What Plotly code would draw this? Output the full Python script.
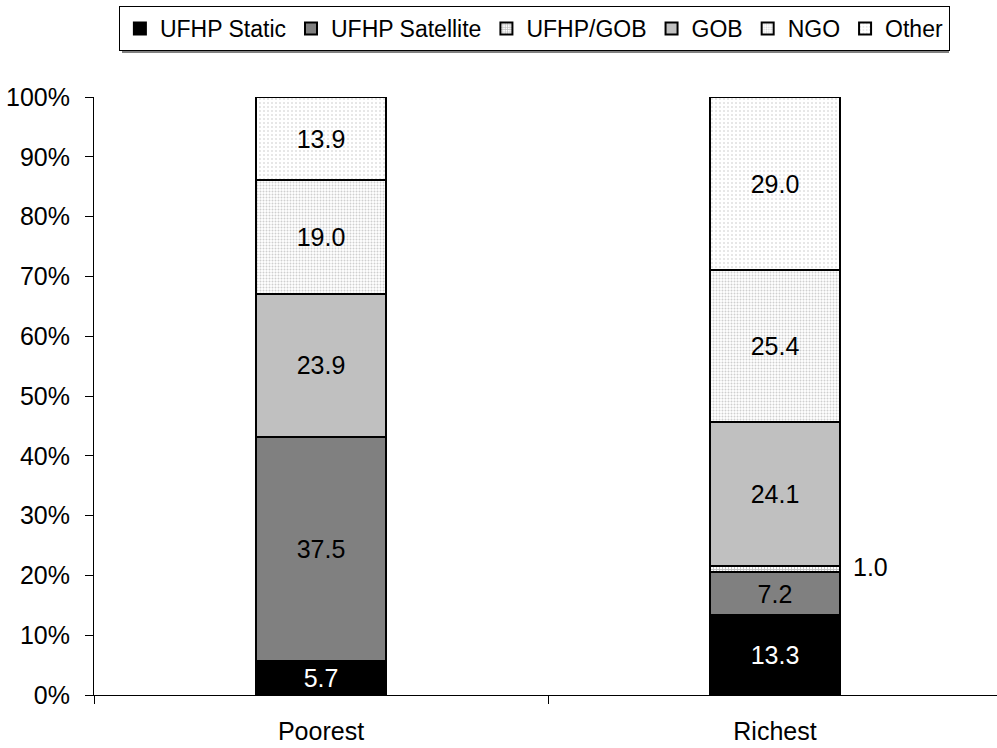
import plotly.graph_objects as go

# Share of users by provider type, poorest vs richest quintile (%)
groups = ["Poorest", "Richest"]
providers = ["UFHP Static", "UFHP Satellite", "UFHP/GOB", "GOB", "NGO", "Other"]
ufhp_static = [5.7, 13.3]
ufhp_satellite = [37.5, 7.2]
ufhp_gob = [0.0, 1.0]
gob = [23.9, 24.1]
ngo = [19.0, 25.4]
other = [13.9, 29.0]
y_ticks = [0, 10, 20, 30, 40, 50, 60, 70, 80, 90, 100]
y_tick_labels = [f"{v}%" for v in y_ticks]

series = [ufhp_static, ufhp_satellite, ufhp_gob, gob, ngo, other]

FONT = "Liberation Sans, Arial, sans-serif"
LABEL_SIZE = 25

styles = [
    dict(color="#000000", pattern=None, textcolor="white"),
    dict(color="#808080", pattern=None, textcolor="black"),
    dict(color="#ffffff", pattern=dict(shape="+", fgcolor="#808080", size=3, solidity=0.5), textcolor="black"),
    dict(color="#c0c0c0", pattern=None, textcolor="black"),
    dict(color="#ffffff", pattern=dict(shape=".", fgcolor="#a0a0a0", size=3, solidity=0.35), textcolor="black"),
    dict(color="#ffffff", pattern=dict(shape=".", fgcolor="#c0c0c0", size=4, solidity=0.2), textcolor="black"),
]

fig = go.Figure()
for name, vals, st in zip(providers, series, styles):
    # Thin slivers get their value written beside the bar instead
    labels = [f"{v:.1f}" if v >= 3 else "" for v in vals]
    marker = dict(color=st["color"], line=dict(color="black", width=2))
    if st["pattern"]:
        marker["pattern"] = st["pattern"]
    fig.add_trace(go.Bar(
        x=groups, y=vals, name=name, marker=marker,
        text=labels, textposition="inside", insidetextanchor="middle",
        textangle=0,
        textfont=dict(size=LABEL_SIZE, color=st["textcolor"], family=FONT),
        width=0.286,
    ))

# Label for the thin UFHP/GOB segment of the richest bar
base = ufhp_static[1] + ufhp_satellite[1]
fig.add_annotation(
    x=groups[1], y=base + ufhp_gob[1] / 2 + 0.4, text=f"{ufhp_gob[1]:.1f}",
    showarrow=False, xanchor="left", xshift=76,
    font=dict(size=LABEL_SIZE, color="black", family=FONT),
)

# Shadow under the legend box
fig.add_shape(type="line", xref="paper", yref="paper",
              x0=(122 - 94) / 903, x1=(949 - 94) / 903,
              y0=1 + (97 - 52) / 598, y1=1 + (97 - 52) / 598,
              line=dict(color="#808080", width=2))

fig.update_layout(
    barmode="stack",
    width=997, height=748,
    margin=dict(l=94, r=0, t=97, b=53),
    paper_bgcolor="white", plot_bgcolor="white",
    font=dict(family=FONT, size=LABEL_SIZE, color="black"),
    showlegend=True,
    legend=dict(
        orientation="h", xref="container", yref="container",
        x=0.536, xanchor="center", y=0.992, yanchor="top",
        bordercolor="black", borderwidth=1,
        font=dict(size=23, family=FONT, color="black"),
        itemwidth=30, tracegroupgap=0,
        traceorder="normal",
    ),
    uniformtext=dict(minsize=10, mode="show"),
)

fig.update_xaxes(
    range=[-0.5, 1.489], showline=True, linecolor="black", linewidth=1,
    tickson="boundaries", ticks="outside", ticklen=8, tickcolor="black",
    ticklabelstandoff=14, showgrid=False, zeroline=False,
    tickfont=dict(size=LABEL_SIZE, family=FONT),
)
fig.update_yaxes(
    range=[0, 100], tickmode="array", tickvals=y_ticks, ticktext=y_tick_labels,
    showline=True, linecolor="black", linewidth=1,
    ticks="outside", ticklen=8, tickcolor="black",
    ticklabelstandoff=10, showgrid=False, zeroline=False,
    tickfont=dict(size=LABEL_SIZE, family=FONT),
)

fig.write_html("out.html")
